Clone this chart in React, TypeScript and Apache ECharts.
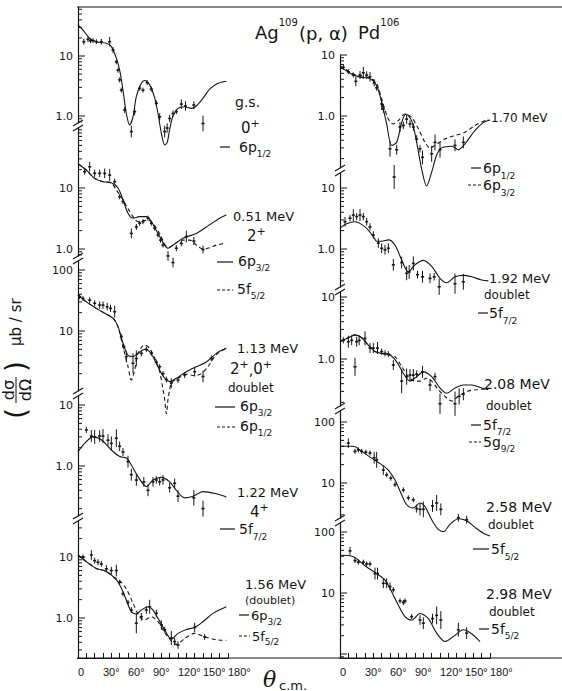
import React, { useEffect, useRef } from 'react';
import * as echarts from 'echarts';

// ---------- data: [angle(deg), dσ/dΩ (μb/sr)] and points [angle, value, error factor] ----------
const GS_SOLID = [[0,33],[6,27],[14,19.7],[22,17.3],[34,16.3],[40,14.3],[46,9.2],[50,5.8],[54,2.7],[58,1.1],[62,0.71],[66,0.97],[70,2.1],[76,3.5],[80,3.9],[86,3.3],[92,2.0],[96,1.1],[100,0.52],[104,0.33],[107,0.36],[110,0.6],[114,1.0],[120,1.34],[128,1.43],[136,1.34],[142,1.47],[150,1.97],[158,2.8],[168,3.5],[178,3.8]];
const GS_POINTS = [[7,17.3,1.12],[12,19,1.12],[15,18,1.1],[18,18,1.1],[22,17.3,1.1],[28,17.3,1.12],[38,17.3,1.2],[42,12.6,1.12],[46,8,1.1],[48,5.8,1.1],[50,4,1.1],[52,2.7,1.1],[56,1.26,1.12],[64,0.55,1.25],[68,1.18,1.15],[74,2.9,1.1],[78,2.7,1.1],[83,3.6,1.1],[88,2.8,1.1],[94,1.63,1.12],[98,0.97,1.15],[104,0.55,1.25],[107,0.63,1.2],[110,0.91,1.15],[114,1.1,1.12],[118,1.18,1.1],[124,1.58,1.2],[129,1.47,1.2],[139,1.52,1.16],[150,0.75,1.35]];

const S051_SOLID = [[0,25],[10,19.7],[20,14.4],[30,12.7],[40,12.2],[48,10],[54,6.4],[60,3.85],[66,3.2],[74,3.4],[82,3.4],[88,2.8],[96,1.8],[104,1.16],[108,1.03],[114,1.16],[126,1.5],[142,1.8],[158,2.5],[170,3.2],[178,3.6]];
const S051_DASH = [[0,25],[10,19.7],[20,14.4],[30,12.7],[40,12],[46,9.3],[54,6.4],[60,4.6],[66,3.4],[72,2.8],[78,2.9],[84,3.0],[90,2.6],[98,1.8],[104,1.2],[108,1.05],[114,1.15],[124,1.4],[134,1.4],[144,1.1],[150,1.0],[158,1.05],[166,1.16],[178,1.24]];
const S051_POINTS = [[8,18.5,1.12],[14,22.3,1.2],[20,17.4,1.15],[26,17.4,1.15],[32,17.4,1.2],[38,16.3,1.25],[44,12.7,1.12],[50,7.2,1.1],[54,6,1.1],[64,1.8,1.2],[70,2.3,1.12],[74,2.65,1.1],[78,2.8,1.1],[84,3.2,1.1],[88,2.65,1.1],[92,2.2,1.1],[96,1.7,1.1],[99,1.4,1.1],[102,1.16,1.1],[108,0.77,1.2],[114,0.6,1.2],[118,1.03,1.12],[124,1.24,1.12],[130,1.6,1.25],[139,1.35,1.16],[150,0.98,1.16]];

const S113_SOLID = [[0,39],[10,30],[22,23.5],[32,19.5],[42,16.2],[48,11.8],[54,6.3],[60,4.0],[66,3.8],[72,4.3],[80,5.0],[86,4.6],[92,3.35],[98,2.3],[104,1.68],[110,1.48],[118,1.68],[130,2.15],[142,2.6],[154,3.1],[166,4.3],[178,5.2]];
const S113_DASH = [[0,39],[10,30],[22,23.5],[32,19.5],[42,16.2],[48,11.8],[54,5.5],[60,2.6],[64,1.57],[68,2.3],[72,4.3],[80,5.9],[86,5.2],[92,3.6],[98,2.15],[102,1.1],[104,0.75],[106,0.44],[108,0.75],[110,1.1],[112,1.38],[116,1.57],[124,1.8],[130,1.95],[140,1.85],[148,2.0],[156,2.6],[166,4.1],[178,5.2]];
const S113_POINTS = [[2,36.5,1.1],[6,34,1.1],[14,32,1.12],[20,28.5,1.12],[26,26.6,1.15],[30,26.6,1.15],[35,25,1.15],[39,23.5,1.15],[44,20.7,1.25],[52,8.1,1.1],[55,5.5,1.1],[58,3.8,1.25],[66,2.95,1.46],[70,3.55,1.35],[76,4.3,1.12],[82,5.0,1.1],[88,4.3,1.1],[94,3.1,1.1],[98,2.6,1.1],[102,2.0,1.1],[106,1.6,1.12],[112,1.4,1.2],[120,1.57,1.12],[128,1.9,1.12],[140,2.15,1.2],[150,1.8,1.25],[160,3.55,1.12]];

const S122_SOLID = [[0,1.72],[8,2.35],[18,3.0],[28,2.7],[40,1.83],[50,1.43],[58,1.35],[64,1.04],[72,0.67],[82,0.46],[90,0.59],[100,0.65],[110,0.55],[118,0.4],[128,0.3],[138,0.32],[150,0.38],[166,0.35],[178,0.31]];
const S122_POINTS = [[10,3.9,1.12],[16,3.1,1.25],[20,3.0,1.3],[26,3.1,1.25],[30,3.1,1.3],[36,2.65,1.25],[40,2.35,1.3],[46,2.85,1.4],[50,2.1,1.2],[54,1.7,1.16],[60,1.18,1.25],[64,0.72,1.25],[70,0.59,1.25],[79,0.55,1.2],[84,0.4,1.25],[90,0.55,1.2],[94,0.59,1.15],[98,0.55,1.15],[102,0.59,1.2],[110,0.44,1.2],[116,0.52,1.2],[120,0.32,1.25],[139,0.3,1.35],[150,0.2,1.35]];

const S156_SOLID = [[0,10.8],[10,8.4],[22,6.5],[34,5.8],[46,4.2],[52,3.07],[58,1.97],[64,1.27],[70,1.16],[76,1.35],[84,1.53],[90,1.35],[96,0.99],[104,0.64],[112,0.45],[120,0.56],[130,0.65],[140,0.7],[150,0.87],[162,1.19],[178,1.53]];
const S156_DASH = [[0,10.8],[10,8.4],[22,6.5],[34,5.8],[44,4.6],[50,4.1],[58,3.0],[66,1.75],[74,1.05],[80,0.93],[88,1.05],[96,0.87],[106,0.53],[118,0.37],[128,0.46],[140,0.56],[152,0.49],[166,0.44],[178,0.43]];
const S156_POINTS = [[6,10,1.1],[16,10.8,1.2],[20,8.7,1.12],[24,8.2,1.12],[28,7.7,1.12],[34,6.4,1.15],[40,6.0,1.15],[46,6.0,1.25],[50,3.85,1.1],[54,2.5,1.1],[60,1.8,1.1],[64,1.35,1.12],[70,0.82,1.46],[76,1.05,1.15],[82,1.35,1.15],[86,1.53,1.3],[94,1.19,1.15],[100,0.77,1.2],[104,0.64,1.12],[112,0.47,1.3],[116,0.41,1.15],[120,0.36,1.15],[140,0.7,1.2],[152,0.49,1.12]];

const S170_SOLID = [[0,6.4],[6,5.7],[16,4.7],[26,4.3],[36,4.1],[44,3.14],[50,1.68],[56,0.74],[62,0.33],[68,0.37],[74,0.78],[79,1.08],[86,0.84],[92,0.37],[98,0.135],[104,0.071],[110,0.12],[116,0.23],[122,0.3],[134,0.32],[142,0.28],[150,0.35],[162,0.58],[172,0.78],[180,0.86]];
const S170_DASH = [[0,6.6],[6,5.9],[16,4.9],[26,4.5],[36,4.2],[44,3.4],[50,1.9],[58,0.89],[64,0.74],[70,0.84],[78,1.08],[86,0.95],[94,0.62],[102,0.37],[108,0.3],[114,0.33],[126,0.42],[138,0.48],[150,0.54],[162,0.7],[178,0.89]];
const S170_POINTS = [[4,6.3,1.1],[10,5.3,1.1],[16,4.7,1.1],[19,3.7,1.2],[24,4.7,1.16],[28,5.1,1.25],[32,4.7,1.15],[36,4.4,1.2],[41,3.5,1.15],[44,2.9,1.12],[50,1.57,1.25],[52,1.3,1.15],[60,0.29,1.35],[65,0.1,1.57],[68,0.28,1.2],[72,0.66,1.2],[76,0.7,1.15],[80,0.89,1.2],[84,0.74,1.15],[88,0.66,1.15],[92,0.42,1.15],[96,0.29,1.15],[99,0.21,1.3],[110,0.24,1.35],[114,0.37,1.35],[120,0.28,1.35],[138,0.33,1.25],[148,0.37,1.25]];

const S192_SOLID = [[0,2.2],[8,2.6],[18,2.8],[30,2.3],[40,1.6],[44,1.34],[50,1.34],[58,1.41],[66,1.16],[74,0.66],[82,0.42],[90,0.55],[100,0.65],[110,0.52],[120,0.33],[128,0.28],[138,0.35],[148,0.37],[158,0.35],[170,0.31],[178,0.3]];
const S192_POINTS = [[6,2.8,1.2],[12,3.2,1.12],[16,3.6,1.25],[20,3.4,1.15],[24,3.6,1.25],[28,3.4,1.15],[32,2.8,1.15],[36,2.3,1.15],[40,1.7,1.15],[46,1.25,1.2],[50,1.03,1.2],[54,0.97,1.2],[58,1.03,1.2],[64,0.55,1.25],[74,0.6,1.25],[80,0.4,1.3],[83,0.42,1.3],[88,0.58,1.3],[93,0.38,1.16],[99,0.35,1.25],[108,0.33,1.2],[113,0.35,1.15],[119,0.24,1.35],[138,0.27,1.46],[148,0.29,1.35]];

const S208_SOLID = [[0,1.9],[10,2.2],[18,2.45],[26,2.2],[34,1.68],[42,1.32],[50,1.23],[60,1.16],[68,0.9],[76,0.59],[84,0.44],[92,0.52],[100,0.62],[110,0.52],[120,0.34],[128,0.28],[138,0.34],[148,0.38],[158,0.38],[170,0.34],[178,0.32]];
const S208_DASH = [[0,1.9],[10,2.2],[18,2.45],[26,2.2],[34,1.68],[42,1.32],[50,1.23],[60,1.16],[66,1.09],[74,0.76],[82,0.52],[90,0.44],[96,0.44],[104,0.49],[110,0.44],[118,0.32],[126,0.25],[134,0.21],[142,0.25],[152,0.3],[164,0.32],[176,0.33]];
const S208_POINTS = [[4,2.0,1.12],[10,1.9,1.25],[14,2.0,1.2],[18,0.75,1.4],[20,1.9,1.2],[23,2.0,1.2],[30,2.15,1.3],[36,1.5,1.2],[40,1.5,1.2],[45,1.5,1.25],[50,1.32,1.12],[54,1.23,1.12],[58,1.2,1.12],[64,0.8,1.2],[74,0.44,1.57],[80,0.52,1.35],[84,0.55,1.25],[88,0.55,1.25],[92,0.57,1.15],[99,0.62,1.25],[108,0.38,1.25],[114,0.52,1.15],[120,0.19,1.46],[138,0.19,1.57],[143,0.25,1.35],[148,0.27,1.25]];

const S258_SOLID = [[0,40],[16,40],[26,33],[38,25.6],[50,20],[58,16.3],[66,11.2],[74,6.4],[80,4.4],[88,3.9],[96,4.7],[102,4.1],[110,2.5],[118,1.73],[124,1.59],[132,2.1],[142,2.6],[152,2.4],[162,1.87],[172,1.5],[180,1.35]];
const S258_POINTS = [[10,45,1.2],[18,33,1.1],[22,35,1.1],[26,33,1.1],[31,32,1.1],[36,31,1.1],[41,26,1.25],[44,24,1.35],[52,16.3,1.2],[56,13.6,1.1],[61,12,1.1],[66,9.4,1.1],[76,7.7,1.1],[82,5.7,1.1],[88,5.3,1.1],[92,3.8,1.16],[96,3.7,1.25],[100,3.7,1.35],[111,4.2,1.25],[116,4.7,1.35],[121,3.7,1.25],[142,2.7,1.16],[152,2.5,1.16]];

const S298_SOLID = [[0,41.5],[16,39.3],[30,28],[44,20.8],[54,16.3],[62,10.5],[70,6.3],[78,4.1],[86,3.6],[96,4.6],[106,3.8],[116,2.2],[126,1.6],[136,1.93],[148,2.5],[158,2.15],[168,1.6]];
const S298_POINTS = [[12,49,1.16],[18,34,1.1],[22,32,1.1],[28,32,1.1],[32,30,1.1],[36,30,1.1],[42,20.8,1.25],[45,20.8,1.25],[52,14.4,1.2],[56,14.4,1.2],[60,12.8,1.16],[64,11.3,1.1],[72,7.4,1.1],[76,7,1.1],[78,7.4,1.1],[86,4.1,1.1],[96,3.6,1.2],[100,3.2,1.25],[111,3.8,1.2],[116,4.3,1.4],[121,3.6,1.4],[142,2.5,1.3],[152,2.2,1.25]];

const X_TICK_LABELS = ['0', '30°', '60°', '90°', '120°', '150°', '180°'];

// ---------- layout ----------
const FONT = '"DejaVu Sans", sans-serif';
const INK = '#151515';

const PANELS = [
  { col: 0, top: 7, bottom: 123, refY: 56, D: 60, exps: [0, 1], solid: GS_SOLID, dash: null, points: GS_POINTS },
  { col: 0, top: 128, bottom: 256, refY: 188, D: 61, exps: [0, 1], solid: S051_SOLID, dash: S051_DASH, points: S051_POINTS },
  { col: 0, top: 261, bottom: 391, refY: 331, D: 61, exps: [1, 2], solid: S113_SOLID, dash: S113_DASH, points: S113_POINTS },
  { col: 0, top: 396, bottom: 516, refY: 405, D: 61, exps: [0, 1], solid: S122_SOLID, dash: null, points: S122_POINTS },
  { col: 0, top: 521, bottom: 658, refY: 557, D: 61, exps: [0, 1], solid: S156_SOLID, dash: S156_DASH, points: S156_POINTS, bottomAxis: true },
  { col: 1, top: 55, bottom: 168, refY: 55, D: 61, exps: [0, 1], solid: S170_SOLID, dash: S170_DASH, points: S170_POINTS },
  { col: 1, top: 173, bottom: 287, refY: 188, D: 61, exps: [0, 1], solid: S192_SOLID, dash: null, points: S192_POINTS },
  { col: 1, top: 292, bottom: 406, refY: 297, D: 62, exps: [0, 1], solid: S208_SOLID, dash: S208_DASH, points: S208_POINTS },
  { col: 1, top: 411, bottom: 518, refY: 483, D: 61, exps: [1, 2], solid: S258_SOLID, dash: null, points: S258_POINTS },
  { col: 1, top: 523, bottom: 658, refY: 593, D: 61, exps: [1, 2], solid: S298_SOLID, dash: null, points: S298_POINTS, bottomAxis: true },
];
const COL_LEFT = [78, 340];
const PLOT_W = 150;

type Part = [string, number, number];
const TEXTS: [number, number, Part[]][] = [
  [235, 102, [['g.s.', 14, 0]]],
  [241, 128, [['0', 15, 0], ['+', 11, -5]]],
  [239, 147, [['6p', 14, 0], ['1/2', 9, 7]]],
  [233, 216, [['0.51 MeV', 13, 0]]],
  [247, 236, [['2', 15, 0], ['+', 11, -5]]],
  [238, 261, [['6p', 14, 0], ['3/2', 9, 7]]],
  [237, 289, [['5f', 14, 0], ['5/2', 9, 7]]],
  [237, 348, [['1.13 MeV', 13, 0]]],
  [230, 369, [['2', 15, 0], ['+', 11, -5], [',', 14, 1], ['0', 15, 0], ['+', 11, -5]]],
  [228, 388, [['doublet', 12, 0]]],
  [240, 406, [['6p', 14, 0], ['3/2', 9, 7]]],
  [240, 426, [['6p', 14, 0], ['1/2', 9, 7]]],
  [237, 492, [['1.22 MeV', 13, 0]]],
  [250, 512, [['4', 15, 0], ['+', 11, -5]]],
  [239, 529, [['5f', 14, 0], ['7/2', 9, 8]]],
  [245, 584, [['1.56 MeV', 13, 0]]],
  [245, 600, [['(doublet)', 11, 0]]],
  [251, 615, [['6p', 13, 0], ['3/2', 9, 7]]],
  [252, 636, [['5f', 13, 0], ['5/2', 9, 6]]],
  [491, 118, [['1.70 MeV', 12, 0]]],
  [483, 168, [['6p', 14, 0], ['1/2', 9, 8]]],
  [483, 185, [['6p', 14, 0], ['3/2', 9, 8]]],
  [489, 278, [['1.92 MeV', 13, 0]]],
  [484, 295, [['doublet', 12, 0]]],
  [489, 313, [['5f', 14, 0], ['7/2', 9, 8]]],
  [484, 384, [['2.08 MeV', 14, 0]]],
  [486, 406, [['doublet', 12, 0]]],
  [483, 425, [['5f', 14, 0], ['7/2', 9, 7]]],
  [483, 442, [['5g', 14, 0], ['9/2', 9, 7]]],
  [486, 507, [['2.58 MeV', 14, 0]]],
  [488, 525, [['doublet', 12, 0]]],
  [491, 549, [['5f', 14, 0], ['5/2', 9, 8]]],
  [486, 594, [['2.98 MeV', 14, 0]]],
  [489, 612, [['doublet', 12, 0]]],
  [491, 629, [['5f', 14, 0], ['5/2', 9, 7]]],
  // title
  [255, 32, [['Ag', 18, 0], ['109', 10, -10]]],
  [299, 33, [['(p, α)', 18, 0]]],
  [358, 32, [['Pd', 18, 0], ['106', 10, -10]]],
];
// legend line samples: x1, x2, y, dashed
const KEYS = [[220,230,147,0],[217,233,262,0],[217,233,290,1],[215,235,407,0],[217,235,427,1],[220,235,529,0],[239,249,615,0],[239,250,636,1],[471,481,168,0],[468,481,185,1],[478,488,313,0],[471,481,425,0],[469,481,442,1],[473,489,549,0],[479,489,629,0]];

let measureCtx: CanvasRenderingContext2D | null = null;
function measure(t: string, size: number) {
  if (!measureCtx) measureCtx = document.createElement('canvas').getContext('2d');
  measureCtx!.font = `${size}px "DejaVu Sans"`;
  return measureCtx!.measureText(t).width;
}

function txt(x: number, y: number, text: string, size: number, extra: any = {}) {
  return {
    type: 'text', x, y, silent: true,
    style: { text, fontSize: size, fontFamily: FONT, fill: INK, align: 'left', verticalAlign: 'middle', ...extra },
  };
}

function buildOption() {
  const grid: any[] = [];
  const xAxis: any[] = [];
  const yAxis: any[] = [];
  const series: any[] = [];
  const graphics: any[] = [];

  PANELS.forEach((p, i) => {
    const max = 10 * Math.pow(10, (p.refY - p.top) / p.D);
    const min = 10 * Math.pow(10, -(p.bottom - p.refY) / p.D);
    grid.push({ left: COL_LEFT[p.col], top: p.top, width: PLOT_W, height: p.bottom - p.top, containLabel: false, outerBoundsMode: 'none' });
    xAxis.push({
      gridIndex: i, type: 'value', min: 0, max: 180, interval: 10, show: !!p.bottomAxis,
      axisLine: { show: true, lineStyle: { color: INK, width: 1.2 } },
      axisTick: { show: true, inside: true, length: 5, lineStyle: { color: INK } },
      splitLine: { show: false },
      axisLabel: {
        color: INK, fontSize: 11, fontFamily: '"Liberation Sans", Arial, sans-serif', margin: 8, align: 'left',
        formatter: (v: number) => (v % 30 === 0 ? X_TICK_LABELS[v / 30] : ''),
      },
    });
    yAxis.push({
      gridIndex: i, type: 'log', logBase: 10, min, max,
      axisLine: { show: true, lineStyle: { color: INK, width: 1.2 } },
      axisTick: { show: false },
      splitLine: { show: false },
      axisLabel: {
        color: INK, fontSize: 11, fontFamily: FONT, margin: 5, showMinLabel: true, showMaxLabel: true,
        formatter: (v: number) => {
          const l = Math.log10(v);
          const r = Math.round(l);
          if (Math.abs(l - r) > 1e-6 || !p.exps.includes(r)) return '';
          return r === 0 ? '1.0' : String(Math.round(v));
        },
      },
    });
    // minor / major ticks on the y axis (drawn inward)
    const ticks: number[][] = [];
    for (let e = Math.floor(Math.log10(min)); e <= Math.ceil(Math.log10(max)); e++) {
      for (let m = 1; m <= 9; m++) {
        const v = parseFloat((m * Math.pow(10, e)).toPrecision(6));
        if (v >= min * 0.999 && v <= max * 1.001) ticks.push([0, v, m === 1 ? 1 : 0]);
      }
    }
    series.push({
      type: 'custom', xAxisIndex: i, yAxisIndex: i, data: ticks, silent: true,
      renderItem: (_: any, api: any) => {
        const c = api.coord([0, api.value(1)]);
        const len = api.value(2) ? 7 : 4;
        return { type: 'line', shape: { x1: c[0], y1: c[1], x2: c[0] + len, y2: c[1] }, style: { stroke: INK, lineWidth: 1 } };
      },
    });
    series.push({
      type: 'line', xAxisIndex: i, yAxisIndex: i, data: p.solid, showSymbol: false, symbol: 'none',
      smooth: 0.3, clip: false, silent: true, lineStyle: { color: INK, width: 1.1 },
    });
    if (p.dash) {
      series.push({
        type: 'line', xAxisIndex: i, yAxisIndex: i, data: p.dash, showSymbol: false, symbol: 'none',
        smooth: 0.3, clip: false, silent: true, lineStyle: { color: INK, width: 1.1, type: [4, 3] },
      });
    }
    series.push({
      type: 'custom', xAxisIndex: i, yAxisIndex: i, data: p.points, silent: true, clip: false,
      renderItem: (_: any, api: any) => {
        const a = api.value(0), v = api.value(1), e = api.value(2);
        const c = api.coord([a, v]);
        const lo = api.coord([a, v / e]);
        const hi = api.coord([a, v * e]);
        return {
          type: 'group',
          children: [
            { type: 'line', shape: { x1: c[0], y1: lo[1], x2: c[0], y2: hi[1] }, style: { stroke: INK, lineWidth: 1 } },
            { type: 'line', shape: { x1: c[0] - 1.5, y1: c[1], x2: c[0] + 1.5, y2: c[1] }, style: { stroke: INK, lineWidth: 1.6 } },
          ],
        };
      },
    });
  });

  // frame lines
  graphics.push({ type: 'line', silent: true, shape: { x1: 77, y1: 7, x2: 562, y2: 7 }, style: { stroke: INK, lineWidth: 1.2 } });
  graphics.push({ type: 'line', silent: true, shape: { x1: 77, y1: 658, x2: 562, y2: 658 }, style: { stroke: INK, lineWidth: 1.2 } });

  // axis breaks
  for (let i = 0; i < PANELS.length - 1; i++) {
    const a = PANELS[i], b = PANELS[i + 1];
    if (a.col !== b.col) continue;
    const x = COL_LEFT[a.col];
    const y = (a.bottom + b.top) / 2;
    graphics.push({ type: 'rect', silent: true, shape: { x: x - 2, y: y - 2.5, width: 4, height: 5 }, style: { fill: '#fff' } });
    [-2.5, 2.5].forEach((d) => {
      graphics.push({ type: 'line', silent: true, shape: { x1: x - 5, y1: y + d + 3, x2: x + 5, y2: y + d - 3 }, style: { stroke: INK, lineWidth: 1.1 } });
    });
  }

  // legend samples
  KEYS.forEach(([x1, x2, y, d]) => {
    graphics.push({ type: 'line', silent: true, shape: { x1, y1: y, x2, y2: y }, style: { stroke: INK, lineWidth: 1.2, lineDash: d ? [3, 2] : null } });
  });

  // annotation texts
  TEXTS.forEach(([x0, y0, parts]) => {
    let x = x0;
    parts.forEach(([t, size, dy]) => {
      graphics.push(txt(x, y0 + dy, t, size));
      x += measure(t, size);
    });
  });

  // y-axis title (rotated)
  graphics.push({
    type: 'group', x: 16, y: 358, rotation: Math.PI / 2, silent: true,
    children: [
      txt(-61, 0, '(', 28),
      txt(-32, -8, 'dσ', 16, { align: 'center' }),
      { type: 'line', shape: { x1: -45, y1: 0, x2: -19, y2: 0 }, style: { stroke: INK, lineWidth: 1 } },
      txt(-32, 9, 'dΩ', 16, { align: 'center' }),
      txt(-14, 0, ')', 28),
      txt(12, 0, 'μb / sr', 15),
    ],
  });

  // x-axis title
  graphics.push(txt(263, 679, 'θ', 22, { fontStyle: 'italic', fontFamily: '"DejaVu Serif", serif' }));
  graphics.push(txt(279, 685, 'c.m.', 13));

  return {
    animation: false,
    backgroundColor: '#ffffff',
    grid, xAxis, yAxis, series,
    graphic: { elements: graphics },
  };
}

export default function App() {
  const ref = useRef<HTMLDivElement>(null);
  useEffect(() => {
    if (!ref.current) return;
    const chart = echarts.init(ref.current, null, { renderer: 'svg' });
    chart.setOption(buildOption() as any);
    return () => chart.dispose();
  }, []);
  return <div ref={ref} style={{ position: 'fixed', left: 0, top: 0, width: 562, height: 691, background: '#fff' }} />;
}
